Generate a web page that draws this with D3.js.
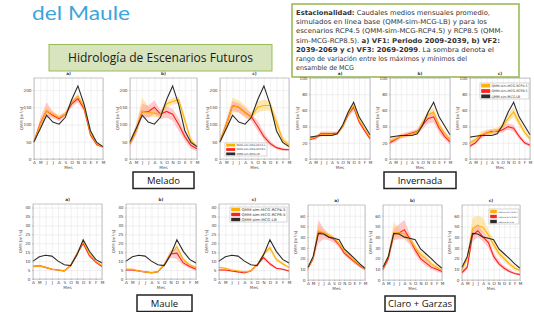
<!DOCTYPE html>
<html><head><meta charset="utf-8">
<script src="https://cdn.jsdelivr.net/npm/d3@7"></script>
<style>body{margin:0;background:#fff;}svg{display:block}</style>
</head><body>
<svg id="c" width="534" height="312"></svg>
<script>
// ---------- DATA ----------
const months = ["A","M","J","J","A","S","O","N","D","E","F","M"];
const periods = ["a)","b)","c)"];
const legendLabels = ["QMM-sim-MCG-RCP4.5","QMM-sim-MCG-RCP8.5","QMM-sim-MCG-LB"];
const basinNames = ["Melado","Invernada","Maule","Claro + Garzas"];

const meladoTicks = [0,50,100,150,200];
const invernadaTicks = [0,20,40,60,80,100];
const mauleTicks = [0,5,10,15,20,25,30,35,40];
const claroTicks = [0,10,20,30,40,50,60];

// Melado
const meladoLB = [50,88,127,107,101,121,172,212,158,82,48,36];
const meladoR45 = [[50,100,140,130,120,130,165,182,150,75,45,35],[45,82,138,135,133,130,160,167,172,113,54,35],[52,98,155,150,135,122,150,155,155,105,55,40]];
const meladoR45Lo = [[45,90,128,122,112,124,155,172,140,68,40,32],[38,70,125,122,122,122,148,158,160,100,46,30],[45,85,135,135,120,112,135,140,140,90,45,33]];
const meladoR45Hi = [[55,112,152,138,128,136,172,190,160,82,50,38],[52,98,178,152,143,140,170,178,180,125,62,40],[60,112,178,170,155,135,168,172,170,122,65,47]];
const meladoR85 = [[50,103,140,127,117,130,160,175,145,70,42,35],[45,82,138,137,150,130,138,130,100,65,40,30],[50,100,155,150,135,122,95,65,45,33,28,27]];
const meladoR85Lo = [[45,88,120,118,110,124,150,165,135,64,38,32],[35,70,120,120,130,115,120,112,82,52,30,22],[42,88,140,135,122,110,82,55,38,28,24,23]];
const meladoR85Hi = [[56,118,165,138,125,136,170,185,155,78,47,38],[55,98,160,155,170,142,152,145,118,78,50,38],[58,112,168,162,148,132,110,78,52,38,32,30]];

// Invernada
const invernadaLB = [27,28,29,29,29,31,42,58,70,52,41,30];
const invernadaR45 = [[25,27,30,30,30,31,40,56,66,48,37,27],[22,25,28,29,31,33,45,55,58,42,32,24],[20,24,30,32,33,35,40,50,58,45,33,25]];
const invernadaR45Lo = [[24,25,28,28,28,30,38,53,62,45,35,25],[20,23,26,27,29,31,42,51,54,38,29,22],[18,21,27,29,30,32,36,45,52,40,30,22]];
const invernadaR45Hi = [[27,29,33,33,33,33,42,59,69,51,39,29],[25,28,31,32,34,36,49,60,63,46,35,27],[23,27,34,36,37,39,45,56,64,50,37,28]];
const invernadaR85 = [[24,26,31,31,31,32,40,55,64,46,35,25],[20,24,28,30,32,34,42,50,52,38,28,21],[16,20,28,32,34,34,36,40,38,28,20,17]];
const invernadaR85Lo = [[23,24,28,29,29,30,38,52,60,43,33,23],[18,21,25,27,29,30,37,44,45,32,24,18],[14,18,25,29,31,31,33,36,34,25,18,15]];
const invernadaR85Hi = [[26,28,34,34,34,34,42,58,67,49,37,27],[23,27,31,33,35,37,47,56,58,43,32,24],[18,23,31,35,37,37,40,44,42,31,23,19]];

// Maule
const mauleLB = [10,12.5,13.3,12.8,10,8,7.5,13.5,22,15.5,11,9];
const mauleR45 = [[7,7.5,6.5,5.5,5,4.5,7.5,14,21,14,10,7.5],[5.5,5.5,4.5,4,3.5,4,8,14,18,11,8,6.5],[6.5,6,5,4.5,4,4.5,8,14,17.5,11,8.5,6.5]];
const mauleR45Lo = [[6.5,7,6,5,4.5,4,7,13,20,13,9.5,7],[5,5,4,3.5,3,3.5,7.5,13,16.5,10,7.5,6],[6,5.5,4.5,4,3.5,4,7.5,13,16,10,7.5,6]];
const mauleR45Hi = [[7.5,8,7,6,5.5,5,8,15,22,15,10.5,8],[6,6,5,4.5,4,4.5,8.5,15,19.5,12,8.5,7],[7,6.5,5.5,5,4.5,5,8.5,15,19,12,9.5,7]];
const mauleR85 = [[7,7.5,6.5,5.5,5,4.5,7.5,14,20,13,9.5,7],[5,5,4.5,4,3.5,4,8,14,14.5,9,7,5.5],[5,5,4.5,4,3.5,4.5,8,12,8.5,6,5.5,4.5]];
const mauleR85Lo = [[6.5,7,6,5,4.5,4,7,13,19,12,9,6.5],[4.5,4.5,4,3.5,3,3.5,7,12,11,7.5,6,4.5],[4.5,4.5,4,3.5,3,4,7.5,11,7.5,5.5,5,4]];
const mauleR85Hi = [[7.5,8,7,6,5.5,5,8,15,21,14,10,7.5],[5.5,5.5,5,4.5,4,4.5,9,16,17,10.5,8,6.5],[5.5,5.5,5,4.5,4,5,8.5,13,9.5,6.5,6,5]];

// Claro + Garzas
const claroLB = [12,22,43.5,43,40,39,37.5,29,24.5,20,15,11];
const claroR45 = [[11,21,46,44,42,39,34,27,22,18,14,10],[11,22,44,44,43,38,30,24,20,15,12,9],[10,20,48,51,49,42,33,25,20,15,11,9]];
const claroR45Lo = [[10,19,40,41,40,37,32,25,20,16,12,9],[9,19,38,40,40,35,27,21,17,13,10,8],[8,17,42,45,44,38,29,22,17,13,9,7]];
const claroR45Hi = [[12,23,52,47,44,41,36,29,24,20,15,11],[13,25,54,48,46,41,33,27,23,17,14,10],[12,23,58,60,58,47,38,29,23,17,13,10]];
const claroR85 = [[11,20,45,44,40,38,33,25,21,17,13,10],[10,20,43,44,47,38,28,20,16,12,10,8],[7,12,42,46,40,35,22,15,11,8,6,5]];
const claroR85Lo = [[10,18,34,38,37,35,30,23,19,15,12,9],[8,17,37,38,38,33,24,17,13,10,8,6],[5,10,36,40,36,30,19,13,9,7,5,4]];
const claroR85Hi = [[12,22,56,48,43,40,35,27,23,18,14,11],[12,23,48,52,56,43,32,23,19,14,12,10],[9,15,48,52,45,39,26,18,13,10,7,6]];

// ---------- STYLE / LAYOUT ----------
const C45 = "#ffb000", C85 = "#ff2020", CLB = "#2b2b2b";
const B45 = "#ffd77f", B85 = "#ff9a9a";
const svg = d3.select("#c");

// slide header
svg.append("text").attr("x",32).attr("y",19.5).attr("font-family","Lato, sans-serif")
  .attr("font-size",20).attr("fill","#3ca5dc").attr("textLength",98).attr("lengthAdjust","spacingAndGlyphs").text("del Maule");

svg.append("rect").attr("x",49).attr("y",44.5).attr("width",223).attr("height",26.5)
  .attr("fill","#d7e4bd").attr("stroke","#9bbb59").attr("stroke-width",1);
svg.append("text").attr("x",160.5).attr("y",62).attr("text-anchor","middle").attr("font-family","Open Sans, sans-serif")
  .attr("font-size",12.5).attr("fill","#1a1a1a").attr("textLength",185).attr("lengthAdjust","spacingAndGlyphs")
  .text("Hidrología de Escenarios Futuros");

// description box
svg.append("rect").attr("x",292).attr("y",4).attr("width",227).attr("height",73)
  .attr("fill","#fff").attr("stroke","#9bbb59").attr("stroke-width",1.6);
const descLines = [
  [["Estacionalidad:",true],[" Caudales medios mensuales promedio,",false]],
  [["simulados en línea base (QMM-sim-MCG-LB) y para los",false]],
  [["escenarios RCP4.5 (QMM-sim-MCG-RCP4.5) y RCP8.5 (QMM-",false]],
  [["sim-MCG-RCP8.5). ",false],["a) VF1: Periodo 2009-2039,  b) VF2:",true]],
  [["2039-2069  y c) VF3:  2069-2099",true],[".  La sombra denota el",false]],
  [["rango de variación entre los máximos y mínimos del",false]],
  [["ensamble de MCG",false]]
];
const descWidths = [194,191,207,204,198,171,58];
descLines.forEach((ln,i)=>{
  const t = svg.append("text").attr("x",296).attr("y",15+i*9.2).attr("font-family","DejaVu Sans, sans-serif")
    .attr("font-size",6.7).attr("fill","#333").attr("textLength",descWidths[i]).attr("lengthAdjust","spacingAndGlyphs");
  ln.forEach(([s,b])=>t.append("tspan").attr("font-weight",b?"bold":"normal").text(s));
});

// basin label boxes
const labelBoxes = [[133,172,61,16.5],[384,172,72,16.5],[137,295,55,16.5],[385,296,70,15.5]];
basinNames.forEach((n,i)=>{
  const [bx,by,bw,bh] = labelBoxes[i];
  svg.append("rect").attr("x",bx).attr("y",by).attr("width",bw).attr("height",bh)
    .attr("fill","#fff").attr("stroke","#222").attr("stroke-width",1.5);
  svg.append("text").attr("x",bx+bw/2).attr("y",by+bh/2+3.5).attr("text-anchor","middle")
    .attr("font-family","Open Sans, sans-serif").attr("font-size",9.5).attr("fill","#111").text(n);
});

const groups = [
  {lb:meladoLB,m45:meladoR45,lo45:meladoR45Lo,hi45:meladoR45Hi,m85:meladoR85,lo85:meladoR85Lo,hi85:meladoR85Hi,
   ymax:235,ticks:meladoTicks,xs:[[34,103],[130,197],[220,289]],y0:78,y1:159,
   legend:{x:225,y:143,w:42,h:13}},
  {lb:invernadaLB,m45:invernadaR45,lo45:invernadaR45Lo,hi45:invernadaR45Hi,m85:invernadaR85,lo85:invernadaR85Lo,hi85:invernadaR85Hi,
   ymax:100,ticks:invernadaTicks,xs:[[310,370],[390,450],[470,530]],y0:78,y1:159,
   legend:{x:480,y:83,w:49,h:16}},
  {lb:mauleLB,m45:mauleR45,lo45:mauleR45Lo,hi45:mauleR45Hi,m85:mauleR85,lo85:mauleR85Lo,hi85:mauleR85Hi,
   ymax:42,ticks:mauleTicks,xs:[[33,102],[126,196],[219,289]],y0:204,y1:279,
   legend:{x:230,y:207,w:57,h:15}},
  {lb:claroLB,m45:claroR45,lo45:claroR45Lo,hi45:claroR45Hi,m85:claroR85,lo85:claroR85Lo,hi85:claroR85Hi,
   ymax:70,ticks:claroTicks,xs:[[308,365],[383,442],[462,520]],y0:205,y1:280,
   legend:{x:489,y:209,w:30,h:15}}
];

groups.forEach(G=>{
  G.xs.forEach(([x0,x1],p)=>{
    const y0=G.y0, y1=G.y1;
    const g = svg.append("g");
    const x = d3.scalePoint().domain(d3.range(12)).range([x0,x1]);
    const y = d3.scaleLinear().domain([0,G.ymax]).range([y1,y0]);
    g.append("rect").attr("x",x0).attr("y",y0).attr("width",x1-x0).attr("height",y1-y0).attr("fill","#fff");
    // grid
    g.append("g").attr("transform",`translate(0,${y1})`)
      .call(d3.axisBottom(x).tickSize(-(y1-y0)).tickFormat(""))
      .call(s=>{s.select(".domain").remove();s.selectAll("line").attr("stroke","#dcdcdc").attr("stroke-width",0.4);});
    g.append("g").attr("transform",`translate(${x0},0)`)
      .call(d3.axisLeft(y).tickValues(G.ticks).tickSize(-(x1-x0)).tickFormat(""))
      .call(s=>{s.select(".domain").remove();s.selectAll("line").attr("stroke","#dcdcdc").attr("stroke-width",0.4);});
    // bands
    const area = d3.area().x((d,i)=>x(i)).y0(d=>y(d[0])).y1(d=>y(d[1]));
    const line = d3.line().x((d,i)=>x(i)).y(d=>y(d));
    g.append("path").attr("d",area(d3.zip(G.lo45[p],G.hi45[p]))).attr("fill",B45).attr("opacity",0.6);
    g.append("path").attr("d",area(d3.zip(G.lo85[p],G.hi85[p]))).attr("fill",B85).attr("opacity",0.5);
    g.append("path").attr("d",line(G.m85[p])).attr("fill","none").attr("stroke",C85).attr("stroke-width",1.1);
    g.append("path").attr("d",line(G.m45[p])).attr("fill","none").attr("stroke",C45).attr("stroke-width",1.1);
    g.append("path").attr("d",line(G.lb)).attr("fill","none").attr("stroke",CLB).attr("stroke-width",1.1);
    // frame
    g.append("rect").attr("x",x0).attr("y",y0).attr("width",x1-x0).attr("height",y1-y0)
      .attr("fill","none").attr("stroke","#8a8a8a").attr("stroke-width",0.5);
    // axis labels
    g.append("g").attr("transform",`translate(0,${y1})`)
      .call(d3.axisBottom(x).tickSize(1).tickPadding(1).tickFormat(i=>months[i]))
      .call(s=>{s.select(".domain").remove();s.selectAll("line").attr("stroke","#777").attr("stroke-width",0.4);
        s.selectAll("text").attr("font-size",4.2).attr("fill","#444").attr("font-family","DejaVu Sans, sans-serif");});
    g.append("g").attr("transform",`translate(${x0},0)`)
      .call(d3.axisLeft(y).tickValues(G.ticks).tickSize(1).tickPadding(1.5))
      .call(s=>{s.select(".domain").remove();s.selectAll("line").attr("stroke","#777").attr("stroke-width",0.4);
        s.selectAll("text").attr("font-size",4.2).attr("fill","#444").attr("font-family","DejaVu Sans, sans-serif");});
    g.append("text").attr("x",(x0+x1)/2).attr("y",y1+10).attr("text-anchor","middle")
      .attr("font-size",4.2).attr("fill","#555").attr("font-family","DejaVu Sans, sans-serif").text("Mes");
    const yl = g.append("text").attr("transform",`translate(${x0-11},${(y0+y1)/2}) rotate(-90)`).attr("text-anchor","middle")
      .attr("font-size",4).attr("fill","#555").attr("font-family","DejaVu Sans, sans-serif");
    yl.append("tspan").text("QMM [m");
    yl.append("tspan").attr("font-size",3).attr("dy",-1.3).text("3");
    yl.append("tspan").attr("dy",1.3).text("/s]");
    g.append("text").attr("x",(x0+x1)/2).attr("y",y0-3).attr("text-anchor","middle")
      .attr("font-size",4.2).attr("font-weight","bold").attr("fill","#333").attr("font-family","DejaVu Sans, sans-serif").text(periods[p]);
    // legend on third chart
    if(p===2){
      const L=G.legend;
      g.append("rect").attr("x",L.x).attr("y",L.y).attr("width",L.w).attr("height",L.h)
        .attr("fill","#fff").attr("stroke","#999").attr("stroke-width",0.4);
      const rh=L.h/3;
      const pw=Math.min(9,L.w*0.22);
      [C45,C85,CLB].forEach((c,k)=>{
        g.append("rect").attr("x",L.x+1.2).attr("y",L.y+k*rh+0.8).attr("width",pw).attr("height",rh-1.6).attr("fill",c);
        const tw = (L.w-pw-4)*(k===2?0.8:1);
        const fs = Math.min(3.6, rh*0.75, tw/(legendLabels[k].length*0.62));
        g.append("text").attr("x",L.x+pw+2.5).attr("y",L.y+k*rh+rh*0.72)
          .attr("font-size",fs).attr("fill","#333").attr("font-family","DejaVu Sans, sans-serif")
          .attr("textLength",tw).attr("lengthAdjust","spacingAndGlyphs").text(legendLabels[k]);
      });
    }
  });
});
</script>
</body></html>
